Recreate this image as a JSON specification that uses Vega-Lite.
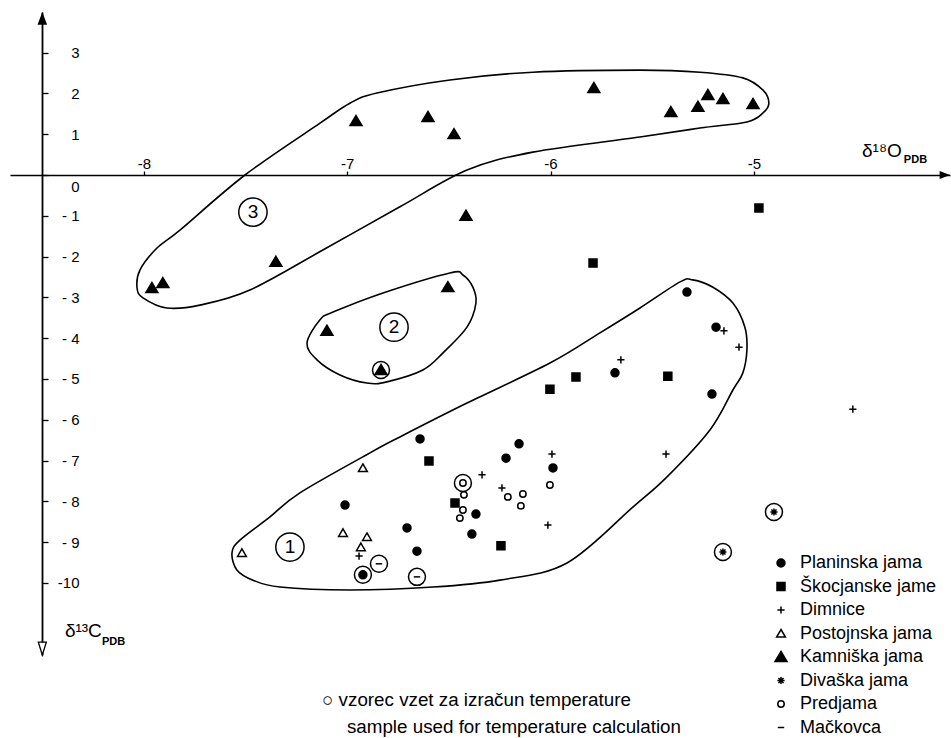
{
  "$schema": "https://vega.github.io/schema/vega-lite/v6.json",
  "width": 940,
  "height": 643,
  "autosize": {"type": "none"},
  "padding": {"left": 10, "top": 12, "right": 1, "bottom": 83},
  "background": "white",
  "config": {
    "view": {"stroke": null},
    "font": "Liberation Sans",
    "legend": {
      "orient": "none", "legendX": 762, "legendY": 542, "padding": 0,
      "labelOffset": 10, "labelFontSize": 18, "labelFont": "Liberation Sans", "labelColor": "black",
      "symbolSize": 256, "symbolStrokeWidth": 1.5, "symbolStrokeColor": "black",
      "rowPadding": 5.5, "labelLimit": 300
    }
  },
  "datasets": {
    "pts": [
      {"cave": "Planinska jama", "x": -5.329, "y": -2.87, "s": 0},
      {"cave": "Planinska jama", "x": -5.186, "y": -3.73, "s": 0},
      {"cave": "Planinska jama", "x": -5.683, "y": -4.85, "s": 0},
      {"cave": "Planinska jama", "x": -5.206, "y": -5.37, "s": 0},
      {"cave": "Planinska jama", "x": -6.642, "y": -6.47, "s": 0},
      {"cave": "Planinska jama", "x": -6.155, "y": -6.59, "s": 0},
      {"cave": "Planinska jama", "x": -6.219, "y": -6.94, "s": 0},
      {"cave": "Planinska jama", "x": -5.988, "y": -7.18, "s": 0},
      {"cave": "Planinska jama", "x": -6.367, "y": -8.31, "s": 0},
      {"cave": "Planinska jama", "x": -6.387, "y": -8.80, "s": 0},
      {"cave": "Planinska jama", "x": -7.011, "y": -8.09, "s": 0},
      {"cave": "Planinska jama", "x": -6.706, "y": -8.65, "s": 0},
      {"cave": "Planinska jama", "x": -6.657, "y": -9.22, "s": 0},
      {"cave": "Planinska jama", "x": -6.923, "y": -9.80, "s": 1},
      {"cave": "Škocjanske jame", "x": -4.975, "y": -0.81, "s": 0},
      {"cave": "Škocjanske jame", "x": -5.791, "y": -2.16, "s": 0},
      {"cave": "Škocjanske jame", "x": -5.423, "y": -4.93, "s": 0},
      {"cave": "Škocjanske jame", "x": -5.875, "y": -4.95, "s": 0},
      {"cave": "Škocjanske jame", "x": -6.003, "y": -5.25, "s": 0},
      {"cave": "Škocjanske jame", "x": -6.598, "y": -7.01, "s": 0},
      {"cave": "Škocjanske jame", "x": -6.470, "y": -8.04, "s": 0},
      {"cave": "Škocjanske jame", "x": -6.244, "y": -9.09, "s": 0},
      {"cave": "Dimnice", "x": -5.147, "y": -3.82, "s": 0},
      {"cave": "Dimnice", "x": -5.073, "y": -4.22, "s": 0},
      {"cave": "Dimnice", "x": -5.654, "y": -4.53, "s": 0},
      {"cave": "Dimnice", "x": -4.513, "y": -5.74, "s": 0},
      {"cave": "Dimnice", "x": -5.432, "y": -6.84, "s": 0},
      {"cave": "Dimnice", "x": -5.993, "y": -6.84, "s": 0},
      {"cave": "Dimnice", "x": -6.337, "y": -7.35, "s": 0},
      {"cave": "Dimnice", "x": -6.239, "y": -7.67, "s": 0},
      {"cave": "Dimnice", "x": -6.013, "y": -8.58, "s": 0},
      {"cave": "Dimnice", "x": -6.942, "y": -9.34, "s": 0},
      {"cave": "Postojnska jama", "x": -6.923, "y": -7.18, "s": 0},
      {"cave": "Postojnska jama", "x": -7.021, "y": -8.77, "s": 0},
      {"cave": "Postojnska jama", "x": -6.903, "y": -8.87, "s": 0},
      {"cave": "Postojnska jama", "x": -6.933, "y": -9.12, "s": 0},
      {"cave": "Postojnska jama", "x": -7.518, "y": -9.26, "s": 0},
      {"cave": "Kamniška jama", "x": -6.957, "y": 1.32, "s": 0},
      {"cave": "Kamniška jama", "x": -6.603, "y": 1.42, "s": 0},
      {"cave": "Kamniška jama", "x": -6.475, "y": 1.00, "s": 0},
      {"cave": "Kamniška jama", "x": -5.787, "y": 2.13, "s": 0},
      {"cave": "Kamniška jama", "x": -6.416, "y": -1.00, "s": 0},
      {"cave": "Kamniška jama", "x": -5.408, "y": 1.54, "s": 0},
      {"cave": "Kamniška jama", "x": -5.275, "y": 1.67, "s": 0},
      {"cave": "Kamniška jama", "x": -5.226, "y": 1.96, "s": 0},
      {"cave": "Kamniška jama", "x": -5.152, "y": 1.86, "s": 0},
      {"cave": "Kamniška jama", "x": -5.004, "y": 1.74, "s": 0},
      {"cave": "Kamniška jama", "x": -7.961, "y": -2.77, "s": 0},
      {"cave": "Kamniška jama", "x": -7.907, "y": -2.65, "s": 0},
      {"cave": "Kamniška jama", "x": -7.351, "y": -2.13, "s": 0},
      {"cave": "Kamniška jama", "x": -6.505, "y": -2.75, "s": 0},
      {"cave": "Kamniška jama", "x": -7.100, "y": -3.82, "s": 0},
      {"cave": "Kamniška jama", "x": -6.834, "y": -4.78, "s": 1},
      {"cave": "Divaška jama", "x": -4.901, "y": -8.26, "s": 1},
      {"cave": "Divaška jama", "x": -5.152, "y": -9.24, "s": 1},
      {"cave": "Predjama", "x": -6.431, "y": -7.55, "s": 1},
      {"cave": "Predjama", "x": -6.426, "y": -7.84, "s": 0},
      {"cave": "Predjama", "x": -6.431, "y": -8.21, "s": 0},
      {"cave": "Predjama", "x": -6.446, "y": -8.41, "s": 0},
      {"cave": "Predjama", "x": -6.210, "y": -7.89, "s": 0},
      {"cave": "Predjama", "x": -6.136, "y": -7.82, "s": 0},
      {"cave": "Predjama", "x": -6.146, "y": -8.11, "s": 0},
      {"cave": "Predjama", "x": -6.003, "y": -7.60, "s": 0},
      {"cave": "Mačkovca", "x": -6.844, "y": -9.53, "s": 1},
      {"cave": "Mačkovca", "x": -6.657, "y": -9.85, "s": 1}
    ],
    "curves": [
      {"c": 3, "o": 1, "x": -8.034, "y": -2.77}, {"c": 3, "o": 2, "x": -8.020, "y": -2.33},
      {"c": 3, "o": 3, "x": -7.936, "y": -1.79}, {"c": 3, "o": 4, "x": -7.823, "y": -1.35},
      {"c": 3, "o": 5, "x": -7.503, "y": 0}, {"c": 3, "o": 6, "x": -7.134, "y": 1.27},
      {"c": 3, "o": 7, "x": -6.987, "y": 1.76}, {"c": 3, "o": 8, "x": -6.854, "y": 2.01},
      {"c": 3, "o": 9, "x": -6.495, "y": 2.33}, {"c": 3, "o": 10, "x": -6.087, "y": 2.52},
      {"c": 3, "o": 11, "x": -5.560, "y": 2.57}, {"c": 3, "o": 12, "x": -5.265, "y": 2.52},
      {"c": 3, "o": 13, "x": -5.054, "y": 2.38}, {"c": 3, "o": 14, "x": -4.955, "y": 2.08},
      {"c": 3, "o": 15, "x": -4.926, "y": 1.76}, {"c": 3, "o": 16, "x": -4.955, "y": 1.52},
      {"c": 3, "o": 17, "x": -5.034, "y": 1.30}, {"c": 3, "o": 18, "x": -5.265, "y": 1.15},
      {"c": 3, "o": 19, "x": -5.560, "y": 0.93}, {"c": 3, "o": 20, "x": -6.087, "y": 0.56},
      {"c": 3, "o": 21, "x": -6.411, "y": 0.12}, {"c": 3, "o": 22, "x": -6.741, "y": -0.78},
      {"c": 3, "o": 23, "x": -7.120, "y": -1.84}, {"c": 3, "o": 24, "x": -7.479, "y": -2.82},
      {"c": 3, "o": 25, "x": -7.725, "y": -3.19}, {"c": 3, "o": 26, "x": -7.887, "y": -3.26},
      {"c": 3, "o": 27, "x": -8.005, "y": -3.01},
      {"c": 2, "o": 1, "x": -7.198, "y": -4.12}, {"c": 2, "o": 2, "x": -7.134, "y": -3.55},
      {"c": 2, "o": 3, "x": -7.070, "y": -3.36}, {"c": 2, "o": 4, "x": -6.824, "y": -2.89},
      {"c": 2, "o": 5, "x": -6.495, "y": -2.40}, {"c": 2, "o": 6, "x": -6.431, "y": -2.45},
      {"c": 2, "o": 7, "x": -6.382, "y": -2.75}, {"c": 2, "o": 8, "x": -6.367, "y": -3.14},
      {"c": 2, "o": 9, "x": -6.411, "y": -3.73}, {"c": 2, "o": 10, "x": -6.529, "y": -4.36},
      {"c": 2, "o": 11, "x": -6.628, "y": -4.78}, {"c": 2, "o": 12, "x": -6.805, "y": -5.07},
      {"c": 2, "o": 13, "x": -6.903, "y": -5.10}, {"c": 2, "o": 14, "x": -7.036, "y": -4.90},
      {"c": 2, "o": 15, "x": -7.149, "y": -4.53},
      {"c": 1, "o": 1, "x": -7.567, "y": -9.26}, {"c": 1, "o": 2, "x": -7.528, "y": -8.95},
      {"c": 1, "o": 3, "x": -7.380, "y": -8.38}, {"c": 1, "o": 4, "x": -7.233, "y": -7.79},
      {"c": 1, "o": 5, "x": -6.888, "y": -6.81}, {"c": 1, "o": 6, "x": -6.741, "y": -6.42},
      {"c": 1, "o": 7, "x": -6.411, "y": -5.59}, {"c": 1, "o": 8, "x": -6.003, "y": -4.61},
      {"c": 1, "o": 9, "x": -5.757, "y": -3.87}, {"c": 1, "o": 10, "x": -5.560, "y": -3.26},
      {"c": 1, "o": 11, "x": -5.363, "y": -2.62}, {"c": 1, "o": 12, "x": -5.300, "y": -2.57},
      {"c": 1, "o": 13, "x": -5.201, "y": -2.75}, {"c": 1, "o": 14, "x": -5.103, "y": -3.14},
      {"c": 1, "o": 15, "x": -5.044, "y": -3.73}, {"c": 1, "o": 16, "x": -5.034, "y": -4.29},
      {"c": 1, "o": 17, "x": -5.054, "y": -4.85}, {"c": 1, "o": 18, "x": -5.103, "y": -5.27},
      {"c": 1, "o": 19, "x": -5.216, "y": -6.25}, {"c": 1, "o": 20, "x": -5.427, "y": -7.40},
      {"c": 1, "o": 21, "x": -5.595, "y": -8.14}, {"c": 1, "o": 22, "x": -5.919, "y": -9.51},
      {"c": 1, "o": 23, "x": -6.249, "y": -9.93}, {"c": 1, "o": 24, "x": -6.578, "y": -10.10},
      {"c": 1, "o": 25, "x": -6.987, "y": -10.17}, {"c": 1, "o": 26, "x": -7.331, "y": -10.10},
      {"c": 1, "o": 27, "x": -7.464, "y": -9.93}, {"c": 1, "o": 28, "x": -7.543, "y": -9.68}
    ],
    "regions": [
      {"label": "1", "x": -7.282, "y": -9.12},
      {"label": "2", "x": -6.770, "y": -3.73},
      {"label": "3", "x": -7.464, "y": -0.91}
    ],
    "arrows": [
      {"dir": "up", "x": -8.5, "y": 3.995},
      {"dir": "down", "x": -8.5, "y": -11.765},
      {"dir": "right", "x": -4.035, "y": 0}
    ],
    "names": [
      {"size": "big", "t": "δ¹⁸O", "x": -4.468, "y": 0.44},
      {"size": "small", "t": "PDB", "x": -4.262, "y": 0.29},
      {"size": "big", "t": "δ¹³C", "x": -8.389, "y": -11.32},
      {"size": "small", "t": "PDB", "x": -8.207, "y": -11.52}
    ],
    "note": [
      {"t": "○ vzorec vzet za izračun temperature", "x": -7.124, "y": -12.87},
      {"t": "sample used for temperature calculation", "x": -7.0015, "y": -13.53}
    ]
  },
  "encoding": {
    "x": {
      "field": "x", "type": "quantitative",
      "scale": {"domain": [-8.659, -4.035], "nice": false, "zero": false},
      "axis": {
        "orient": "top", "offset": -163, "values": [-8, -7, -6, -5], "title": null, "grid": false,
        "domainColor": "black", "domainWidth": 1.6, "tickColor": "black", "tickSize": 4, "tickWidth": 1.3,
        "labelFontSize": 15, "labelColor": "black", "labelPadding": 0, "labelFlush": false, "labelOverlap": false,
        "labelExpr": "'-' + abs(datum.value)", "labelFont": "Liberation Sans"
      }
    },
    "y": {
      "field": "y", "type": "quantitative",
      "scale": {"domain": [-11.765, 3.995], "nice": false, "zero": false},
      "axis": {
        "orient": "right", "offset": -908, "values": [3, 2, 1, 0, -1, -2, -3, -4, -5, -6, -7, -8, -9, -10],
        "title": null, "grid": false,
        "domainColor": "black", "domainWidth": 1.8, "tickColor": "black", "tickSize": 6, "tickWidth": 1.3,
        "labelFontSize": 15, "labelColor": "black", "labelAlign": "right", "labelPadding": 31,
        "labelFlush": false, "labelOverlap": false, "labelFont": "Liberation Sans",
        "labelExpr": "datum.value <= -10 ? '-10' : datum.value < 0 ? '- ' + abs(datum.value) : '' + datum.value",
        "labelOffset": {"condition": {"test": "datum.value === 0", "value": 12}, "value": 0}
      }
    }
  },
  "layer": [
    {
      "data": {"name": "curves"},
      "mark": {"type": "line", "interpolate": "cardinal-closed", "color": "black", "strokeWidth": 1.6},
      "encoding": {"detail": {"field": "c", "type": "nominal"}, "order": {"field": "o", "type": "quantitative"}}
    },
    {
      "data": {"name": "regions"},
      "mark": {"type": "point", "shape": "circle", "filled": false, "size": 800, "color": "black", "strokeWidth": 1.5, "opacity": 1}
    },
    {
      "data": {"name": "regions"},
      "mark": {"type": "text", "fontSize": 19, "color": "black", "align": "center", "baseline": "middle", "font": "Liberation Sans"},
      "encoding": {"text": {"field": "label"}}
    },
    {
      "data": {"name": "pts"},
      "transform": [{"filter": "datum.s == 1"}],
      "mark": {"type": "point", "shape": "circle", "filled": false, "size": 289, "color": "black", "strokeWidth": 1.5, "opacity": 1}
    },
    {
      "data": {"name": "pts"},
      "mark": {"type": "point", "filled": true, "strokeWidth": 1.5, "size": 256, "opacity": 1},
      "encoding": {
        "shape": {
          "field": "cave", "type": "nominal",
          "scale": {
            "domain": ["Planinska jama", "Škocjanske jame", "Dimnice", "Postojnska jama", "Kamniška jama", "Divaška jama", "Predjama", "Mačkovca"],
            "range": [
              "M-0.5,0A0.5,0.5,0,1,0,0.5,0A0.5,0.5,0,1,0,-0.5,0Z",
              "M-0.5,-0.5H0.5V0.5H-0.5Z",
              "M-0.45,0H0.45M0,-0.45V0.45",
              "M0,-0.5L0.55,0.45L-0.55,0.45Z",
              "M0,-0.7L0.75,0.55L-0.75,0.55Z",
              "M-0.45,0H0.45M0,-0.45V0.45M-0.32,-0.32L0.32,0.32M-0.32,0.32L0.32,-0.32",
              "M-0.4,0A0.4,0.4,0,1,0,0.4,0A0.4,0.4,0,1,0,-0.4,0Z",
              "M-0.4,0H0.4"
            ]
          },
          "legend": {"title": null}
        },
        "fill": {
          "field": "cave", "type": "nominal",
          "scale": {
            "domain": ["Planinska jama", "Škocjanske jame", "Dimnice", "Postojnska jama", "Kamniška jama", "Divaška jama", "Predjama", "Mačkovca"],
            "range": ["black", "black", "black", "white", "black", "black", "white", "black"]
          },
          "legend": {"title": null}
        },
        "stroke": {
          "field": "cave", "type": "nominal",
          "scale": {
            "domain": ["Planinska jama", "Škocjanske jame", "Dimnice", "Postojnska jama", "Kamniška jama", "Divaška jama", "Predjama", "Mačkovca"],
            "range": ["black", "black", "black", "black", "black", "black", "black", "black"]
          },
          "legend": {"title": null}
        }
      }
    },
    {
      "data": {"name": "arrows"},
      "transform": [{"filter": "datum.dir == 'up'"}],
      "mark": {"type": "point", "shape": "M0,0L1.2,3.2L-1.2,3.2Z", "size": 64, "filled": true, "color": "black", "opacity": 1}
    },
    {
      "data": {"name": "arrows"},
      "transform": [{"filter": "datum.dir == 'down'"}],
      "mark": {"type": "point", "shape": "M0,0L1,-3.2L-1,-3.2Z", "size": 64, "fill": "white", "stroke": "black", "strokeWidth": 1.3, "opacity": 1}
    },
    {
      "data": {"name": "arrows"},
      "transform": [{"filter": "datum.dir == 'right'"}],
      "mark": {"type": "point", "shape": "M0,0L-2.6,-1L-2.6,1Z", "size": 64, "filled": true, "color": "black", "opacity": 1}
    },
    {
      "data": {"name": "names"},
      "transform": [{"filter": "datum.size == 'big'"}],
      "mark": {"type": "text", "fontSize": 19, "color": "black", "align": "left", "baseline": "alphabetic", "font": "Liberation Sans"},
      "encoding": {"text": {"field": "t"}}
    },
    {
      "data": {"name": "names"},
      "transform": [{"filter": "datum.size == 'small'"}],
      "mark": {"type": "text", "fontSize": 11, "fontWeight": "bold", "color": "black", "align": "left", "baseline": "alphabetic", "font": "Liberation Sans"},
      "encoding": {"text": {"field": "t"}}
    },
    {
      "data": {"name": "note"},
      "mark": {"type": "text", "fontSize": 18.8, "color": "black", "align": "left", "baseline": "middle", "font": "Liberation Sans"},
      "encoding": {"text": {"field": "t"}}
    }
  ]
}
